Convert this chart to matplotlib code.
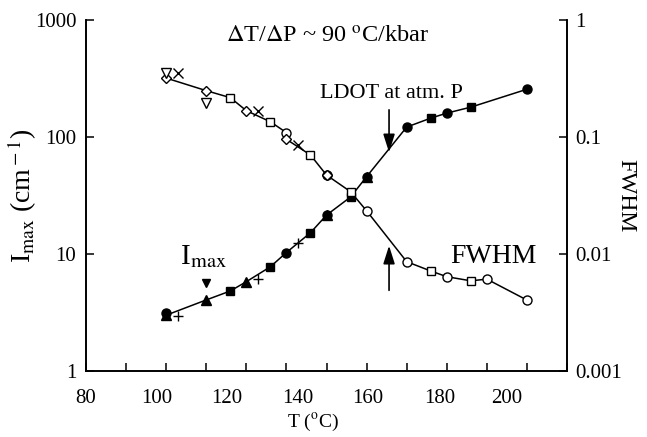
import matplotlib
matplotlib.use("Agg")
import matplotlib.pyplot as plt
import matplotlib.transforms as mtransforms
import numpy as np

plt.rcParams["font.family"] = ["Liberation Serif", "DejaVu Serif"]
plt.rcParams["mathtext.fontset"] = "stix"

# ---- FWHM (right axis, open symbols) ----
fw_circle_T = [130, 140, 150, 160, 170, 180, 190]
fw_circle = [0.109, 0.0473, 0.0234, 0.0086, 0.0064, 0.0061, 0.00404]
fw_diamond_T = [100, 110, 120, 130, 140]
fw_diamond = [0.319, 0.249, 0.168, 0.0956, 0.0473]
fw_square_T = [116, 126, 136, 146, 166, 176]
fw_square = [0.217, 0.135, 0.0702, 0.0341, 0.00716, 0.0059]
fw_tri_T = [100, 110]
fw_tri = [0.355, 0.194]
fw_cross_T = [103, 123, 133]
fw_cross = [0.355, 0.168, 0.0855]

# ---- I_max (left axis, filled symbols) ----
im_circle_T = [100, 130, 140, 150, 160, 170, 190]
im_circle = [3.11, 10.3, 21.5, 45.8, 121.6, 160, 256]
im_tri_T = [100, 110, 120, 140, 150]
im_tri = [3.0, 4.05, 5.80, 21.5, 45.8]
im_square_T = [116, 126, 136, 146, 166, 176]
im_square = [4.83, 7.78, 15.2, 30.7, 145, 180]
im_plus_T = [103, 123, 133]
im_plus = [2.95, 6.08, 12.3]

xtick_labels = ["80", "100", "120", "140", "160", "180", "200"]
ldot_T = 155.6

fig = plt.figure(figsize=(6.47, 4.37), dpi=100)
ax = fig.add_axes([0.1329, 0.151, 0.7435, 0.8032])
ax2 = ax.twinx()

ms = 6.5
lw = 1.1

def merged(*pairs):
    xs, ys = [], []
    for t, v in pairs:
        xs += list(t)
        ys += list(v)
    order = np.argsort(xs, kind="stable")
    return np.array(xs)[order], np.array(ys)[order]

# connecting curves
lx, ly = merged((im_circle_T, im_circle), (im_tri_T, im_tri), (im_square_T, im_square))
ax.plot(lx, ly, color="black", lw=lw, zorder=2)
fx, fy = merged((fw_circle_T, fw_circle), (fw_diamond_T, fw_diamond), (fw_square_T, fw_square))
ax2.plot(fx, fy, color="black", lw=lw, zorder=2)

# I_max symbols
ax.plot(im_circle_T, im_circle, "o", color="black", ms=ms, zorder=3)
ax.plot(im_tri_T, im_tri, "^", color="black", ms=ms, zorder=3)
ax.plot(im_square_T, im_square, "s", color="black", ms=ms - 0.5, zorder=3)
ax.plot(im_plus_T, im_plus, "+", color="black", ms=ms + 1, mew=1.0, zorder=3)

# FWHM symbols
open_kw = dict(mfc="white", mec="black", mew=1.0, ls="none", zorder=3)
ax2.plot(fw_circle_T, fw_circle, "o", ms=ms, **open_kw)
ax2.plot(fw_diamond_T, fw_diamond, "D", ms=ms - 1.5, **open_kw)
ax2.plot(fw_square_T, fw_square, "s", ms=ms - 0.5, **open_kw)
ax2.plot(fw_tri_T, fw_tri, "v", ms=ms, **open_kw)
ax2.plot(fw_cross_T, fw_cross, "x", color="black", ms=ms + 0.5, mew=1.0, zorder=3)

# axes
ax.set_xlim(80, 200)
ax.set_yscale("log")
ax.set_ylim(1, 1000)
ax2.set_yscale("log")
ax2.set_ylim(0.001, 1)

ax.set_xticks(np.arange(80, 201, 10))
ax.set_xticklabels([])
ax.yaxis.set_minor_locator(matplotlib.ticker.NullLocator())
ax2.yaxis.set_minor_locator(matplotlib.ticker.NullLocator())
ax.set_yticks([1, 10, 100, 1000])
ax.set_yticklabels(["1", "10", "100", "1000"])
ax2.set_yticks([0.001, 0.01, 0.1, 1])
ax2.set_yticklabels(["0.001", "0.01", "0.1", "1"])

for a in (ax, ax2):
    a.spines["top"].set_visible(False)
    for s in a.spines.values():
        s.set_linewidth(1.2)
tick_fs = 15
ax.tick_params(axis="both", direction="in", length=6, width=1.1, labelsize=tick_fs, pad=7)
ax2.tick_params(axis="y", direction="in", length=6, width=1.1, labelsize=tick_fs, pad=6)

# bottom labels, set in their own row under the axis
label_pos = [0.0, 0.148, 0.293, 0.441, 0.586, 0.736, 0.875]
for p, t in zip(label_pos, xtick_labels):
    ax.text(p, -0.05, t, transform=ax.transAxes, ha="center", va="top", fontsize=tick_fs)
ax.text(0.471, -0.115, r"T ($^{\rm o}$C)", transform=ax.transAxes, ha="center", va="top", fontsize=14)

ax.set_ylabel(r"I$_{\rm max}$ (cm$^{\rm -1}$)", fontsize=20)
ax.yaxis.set_label_coords(-0.098, 0.5)
ax2.set_ylabel("FWHM", fontsize=17, rotation=270, labelpad=10)

# annotations
ax.text(0.503, 0.95, r"$\Delta$T/$\Delta$P ~ 90 $^{\rm o}$C/kbar", transform=ax.transAxes,
        ha="center", va="center", fontsize=17.5)
ax.text(0.636, 0.79, "LDOT at atm. P", transform=ax.transAxes, ha="center", va="center", fontsize=16)
arrow_kw = dict(arrowstyle="-|>,head_length=1.1,head_width=0.35", color="black", lw=1.2)
ax.annotate("", xy=(ldot_T, 0.615), xytext=(ldot_T, 0.752),
            xycoords=("data", "axes fraction"), textcoords=("data", "axes fraction"),
            arrowprops=arrow_kw)
ax.annotate("", xy=(ldot_T, 0.365), xytext=(ldot_T, 0.222),
            xycoords=("data", "axes fraction"), textcoords=("data", "axes fraction"),
            arrowprops=arrow_kw)
ax.text(0.846, 0.325, "FWHM", transform=ax.transAxes, ha="center", va="center", fontsize=20)

ax.text(0.245, 0.325, r"I$_{\rm max}$", transform=ax.transAxes, ha="center", va="center", fontsize=21)
marker_tr = mtransforms.offset_copy(ax.transData, fig=fig, x=0, y=12, units="points")
ax.plot([im_tri_T[1]], [im_tri[1]], "v", color="black", ms=6, transform=marker_tr, clip_on=False)

fig.savefig("out.png", dpi=100)
